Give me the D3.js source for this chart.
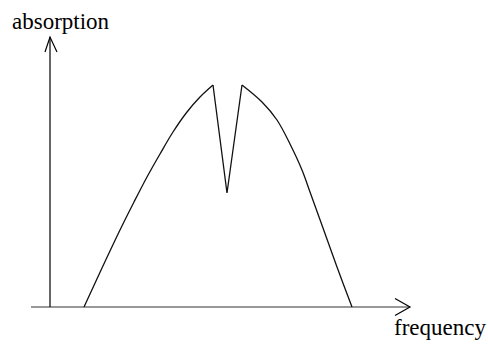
<!DOCTYPE html>
<html>
<head>
<meta charset="utf-8">
<script src="https://cdn.jsdelivr.net/npm/d3@7"></script>
<style>
html,body{margin:0;padding:0;background:#fff;}
svg{display:block;}
text{font-family:"Liberation Serif","Times New Roman",serif;fill:#000;}
</style>
</head>
<body>
<svg id="chart" width="488" height="345"></svg>
<script>
// frequency positions (arbitrary units) and absorption values (arbitrary units)
const frequency  = [34, 52, 70, 84, 97, 110, 123, 137, 150, 163, 177, 192, 212, 227, 240, 252, 260, 273, 287, 302];
const absorption = [0, 39, 77, 105, 130, 153, 175, 195, 210, 222, 114, 222, 205, 187, 163, 137, 115, 79, 40, 0];
const axisLabels = ["absorption", "frequency"];

const svg = d3.select("#chart");
const x = d3.scaleLinear().domain([0, 360]).range([50, 410]);
const y = d3.scaleLinear().domain([0, 270]).range([307, 37]);

const data = frequency.map((f, i) => ({f, a: absorption[i]}));
const peakL = 9, peakR = 11;

// axes
const g = svg.append("g").attr("stroke", "#000").attr("fill", "none").attr("stroke-width", 1.2);
g.append("line").attr("x1", x(-19)).attr("x2", x(360)).attr("y1", y(0)).attr("y2", y(0)).attr("stroke","#333");
g.append("line").attr("x1", x(0)).attr("x2", x(0)).attr("y1", y(0)).attr("y2", y(270));
// arrowheads
g.append("path").attr("d", `M${x(-5)},${y(255)}L${x(0)},${y(270)}L${x(7)},${y(255)}`);
g.append("path").attr("d", `M${x(345)},${y(8.5)}L${x(360)},${y(0)}L${x(345)},${y(-8.5)}`);

// curve: smooth arches, sharp dip
const smooth = d3.line().x(d => x(d.f)).y(d => y(d.a)).curve(d3.curveCatmullRom.alpha(0.5));
const straight = d3.line().x(d => x(d.f)).y(d => y(d.a)).curve(d3.curveLinear);
const cg = svg.append("g").attr("fill", "none").attr("stroke", "#111").attr("stroke-width", 1.3)
  .attr("stroke-linejoin", "miter");
cg.append("path").datum(data.slice(0, peakL + 1)).attr("d", smooth);
cg.append("path").datum(data.slice(peakL, peakR + 1)).attr("d", straight);
cg.append("path").datum(data.slice(peakR)).attr("d", smooth);

svg.append("text").attr("x", 12).attr("y", 29).attr("font-size", 23).text(axisLabels[0]);
svg.append("text").attr("x", 394).attr("y", 335).attr("font-size", 23).text(axisLabels[1]);
</script>
</body>
</html>
